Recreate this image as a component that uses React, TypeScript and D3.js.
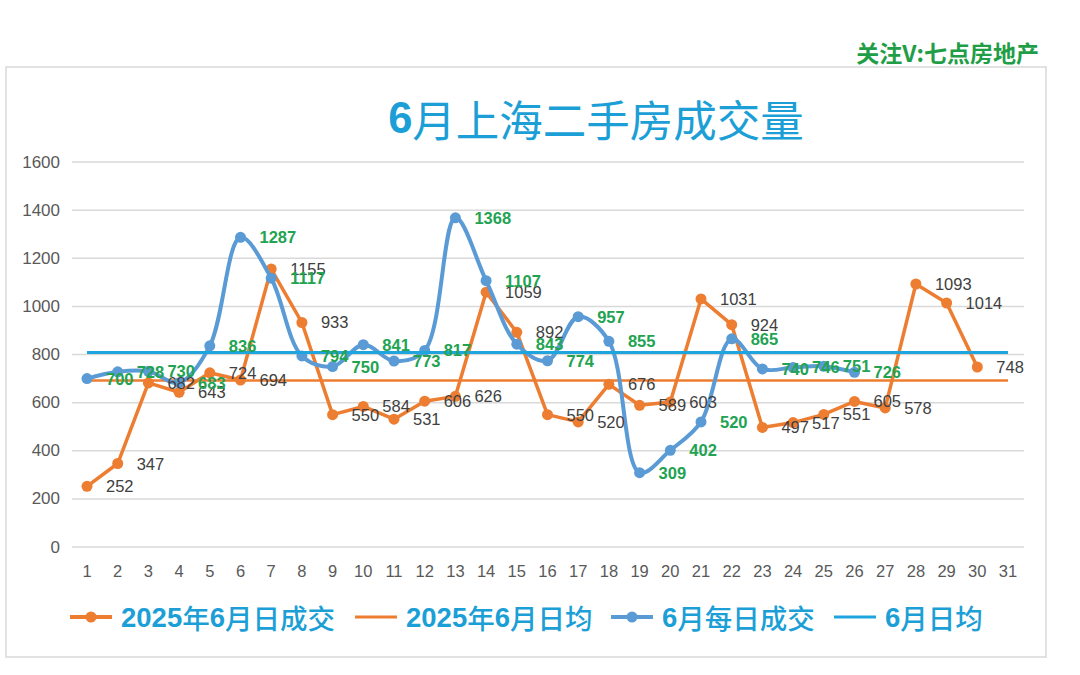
import * as d3 from "d3";

const days = [
  "1", "2", "3", "4", "5", "6", "7", "8", "9", "10", "11", "12", "13", "14", "15", "16",
  "17", "18", "19", "20", "21", "22", "23", "24", "25", "26", "27", "28", "29", "30", "31",
];

// 2025年6月日成交 (days 1-30)
const daily2025 = [
  252, 347, 682, 643, 724, 694, 1155, 933, 550, 584, 531, 606, 626, 1059, 892,
  550, 520, 676, 589, 603, 1031, 924, 497, 517, 551, 605, 578, 1093, 1014, 748,
];

// 6月每日成交 (days 1-26)
const dailyJune = [
  700, 728, 730, 683, 836, 1287, 1117, 794, 750, 841, 773, 817, 1368, 1107, 843,
  774, 957, 855, 309, 402, 520, 865, 740, 746, 751, 726,
];

const yTicks = [0, 200, 400, 600, 800, 1000, 1200, 1400, 1600];

const legendItems = [
  { label: "2025年6月日成交", color: "#ed7d31", marker: true, x: 70 },
  { label: "2025年6月日均", color: "#ed7d31", marker: false, x: 355 },
  { label: "6月每日成交", color: "#5b9bd5", marker: true, x: 611 },
  { label: "6月日均", color: "#1ea5dd", marker: false, x: 834 },
];

const width = 1080;
const height = 675;
const plot = { left: 72, right: 1024, top: 162, bottom: 547 };
const numFont = "'Liberation Sans', Arial, sans-serif";
const cjkFont = "'Noto Sans CJK SC', 'Noto Sans', sans-serif";
const titleColor = "#1c9fd6";
const labelGreen = "#22a352";

const x = d3.scalePoint<string>().domain(days).range([87, 1008]);
const y = d3.scaleLinear().domain([0, 1600]).range([plot.bottom, plot.top]);

// split a label into digit / non-digit runs so digits can be bold latin
function runs(text: string) {
  return text.match(/[0-9A-Za-z:]+|[^0-9A-Za-z:]+/g) ?? [];
}

export default function App() {
  const avg2025 = d3.mean(daily2025) ?? 0;
  const avgJune = d3.mean(dailyJune) ?? 0;

  const straight = d3
    .line<number>()
    .x((_, i) => x(days[i])!)
    .y((d) => y(d));
  const smooth = d3
    .line<number>()
    .x((_, i) => x(days[i])!)
    .y((d) => y(d))
    .curve(d3.curveCatmullRom.alpha(0.5));

  const x0 = x(days[0])!;
  const x1 = x(days[days.length - 1])!;

  return (
    <svg
      width={width}
      height={height}
      style={{ position: "fixed", left: 0, top: 0, background: "#fff" }}
    >
      <rect x={0} y={0} width={width} height={height} fill="#fff" />
      <text
        x={1039}
        y={52}
        textAnchor="end"
        dominantBaseline="central"
        fontFamily={cjkFont}
        fontWeight={700}
        fontSize={23}
        fill="#1f9e47"
      >
        关注V:七点房地产
      </text>
      <rect x={6} y={67} width={1040} height={590} fill="#fff" stroke="#d9d9d9" strokeWidth={1.5} />

      <text x={596} y={118} textAnchor="middle" dominantBaseline="central" fill={titleColor} fontSize={43.5}>
        <tspan fontFamily={numFont} fontWeight={700}>6</tspan>
        <tspan fontFamily={cjkFont} fontWeight={400}>月上海二手房成交量</tspan>
      </text>

      {yTicks.map((t) => (
        <g key={t}>
          <line x1={plot.left} x2={plot.right} y1={y(t)} y2={y(t)} stroke="#d9d9d9" strokeWidth={1.5} />
          <text
            x={60}
            y={y(t)}
            textAnchor="end"
            dominantBaseline="central"
            fontFamily={numFont}
            fontSize={17}
            fill="#595959"
          >
            {t}
          </text>
        </g>
      ))}

      {days.map((d) => (
        <text
          key={d}
          x={x(d)}
          y={571}
          textAnchor="middle"
          dominantBaseline="central"
          fontFamily={numFont}
          fontSize={16.5}
          fill="#595959"
        >
          {d}
        </text>
      ))}

      {/* 2025年6月日成交 */}
      <path d={straight(daily2025) ?? ""} fill="none" stroke="#ed7d31" strokeWidth={3.5} strokeLinejoin="round" />
      {daily2025.map((v, i) => (
        <circle key={i} cx={x(days[i])} cy={y(v)} r={5.5} fill="#ed7d31" />
      ))}

      {/* 2025年6月日均 */}
      <line x1={x0} x2={x1} y1={y(avg2025)} y2={y(avg2025)} stroke="#ed7d31" strokeWidth={2.5} />

      {/* 6月每日成交 */}
      <path d={smooth(dailyJune) ?? ""} fill="none" stroke="#5b9bd5" strokeWidth={4} strokeLinejoin="round" />
      {dailyJune.map((v, i) => (
        <circle key={i} cx={x(days[i])} cy={y(v)} r={5.5} fill="#5b9bd5" />
      ))}

      {/* 6月日均 */}
      <line x1={x0} x2={x1} y1={y(avgJune)} y2={y(avgJune)} stroke="#1ea5dd" strokeWidth={3} />

      {daily2025.map((v, i) => (
        <text
          key={i}
          x={x(days[i])! + 19}
          y={y(v)}
          dominantBaseline="central"
          fontFamily={numFont}
          fontSize={16.5}
          fill="#404040"
        >
          {v}
        </text>
      ))}
      {dailyJune.map((v, i) => (
        <text
          key={i}
          x={x(days[i])! + 19}
          y={y(v)}
          dominantBaseline="central"
          fontFamily={numFont}
          fontWeight={700}
          fontSize={16.5}
          fill={labelGreen}
        >
          {v}
        </text>
      ))}

      {legendItems.map((item) => (
        <g key={item.label}>
          <line x1={item.x} x2={item.x + 42} y1={617} y2={617} stroke={item.color} strokeWidth={item.marker ? 4 : 3} />
          {item.marker && <circle cx={item.x + 21} cy={617} r={5.5} fill={item.color} />}
          <text x={item.x + 51} y={617} dominantBaseline="central" fontSize={27.5} fill={titleColor}>
            {runs(item.label).map((r, k) =>
              /[0-9]/.test(r) ? (
                <tspan key={k} fontFamily={numFont} fontWeight={700}>
                  {r}
                </tspan>
              ) : (
                <tspan key={k} fontFamily={cjkFont} fontWeight={500}>
                  {r}
                </tspan>
              )
            )}
          </text>
        </g>
      ))}
    </svg>
  );
}
